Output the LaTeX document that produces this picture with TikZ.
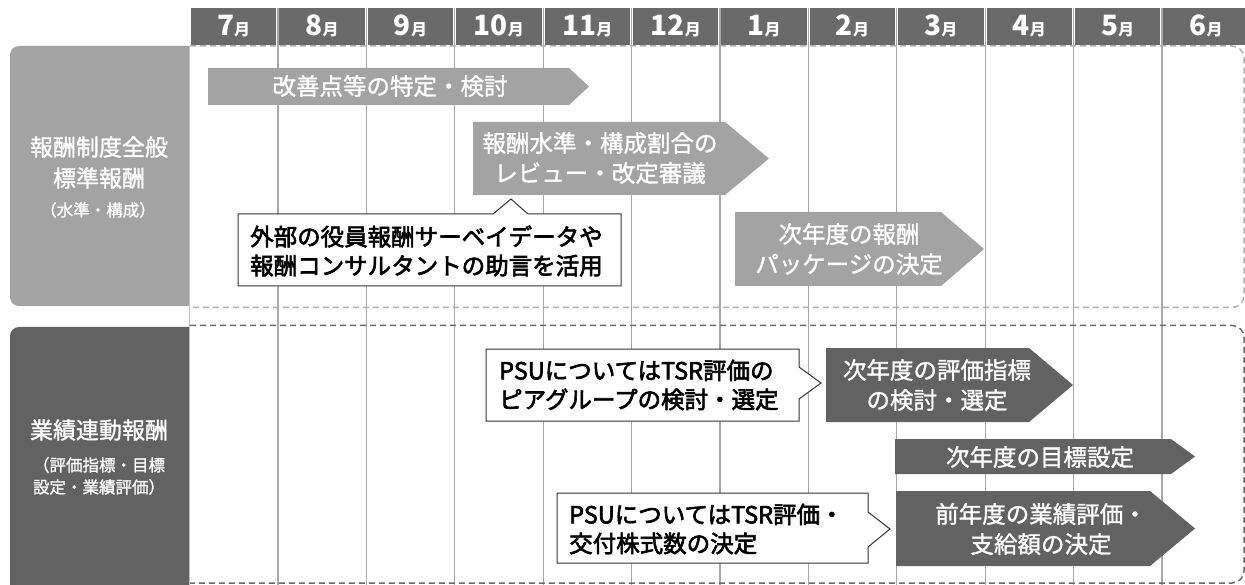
\documentclass[tikz,border=0pt]{standalone}
\usepackage{fontspec}
\setmainfont{Noto Sans CJK JP}
\newfontfamily\medfont[FakeBold=2.6]{Noto Sans CJK JP}
\newfontfamily\semifont[FakeBold=1.3]{Noto Sans CJK JP}
\definecolor{hdr}{HTML}{6A6A6A}
\definecolor{lgt}{HTML}{A3A3A3}
\definecolor{drk}{HTML}{626262}
\definecolor{gridc}{HTML}{A8A8A8}
\definecolor{frmL}{HTML}{B0B0B0}
\definecolor{frmD}{HTML}{6A6A6A}
\definecolor{cbord}{HTML}{333333}
\tikzset{
  hdrcell/.style={fill=hdr},
  monthlbl/.style={text=white,font=\bfseries\fontsize{28}{28}\selectfont,inner sep=0pt},
  gridline/.style={draw=gridc,line width=1.2pt},
  frameL/.style={draw=frmL,line width=1.5pt,dash pattern=on 6pt off 4pt,rounded corners=12pt},
  frameD/.style={draw=frmD,line width=1.5pt,dash pattern=on 6pt off 4pt,rounded corners=12pt},
  lightarrow/.style={fill=lgt},
  darkarrow/.style={fill=drk},
  arrowtxt/.style={text=white,font=\semifont\fontsize{23.5}{30}\selectfont,align=center,inner sep=0pt},
  callbox/.style={fill=white,draw=cbord,line width=1pt,line join=miter},
  calltxt/.style={text=black,font=\medfont\fontsize{23.5}{29}\selectfont,align=left,inner sep=0pt,anchor=west},
  sidemain/.style={text=white,font=\semifont\fontsize{23}{23}\selectfont,inner sep=0pt},
  sidesub/.style={text=white,font=\semifont\fontsize{16.5}{16.5}\selectfont,inner sep=0pt},
}
\newcommand{\chevron}[6]{% x0, xhead, xtip, ytop, ybot, style
  \fill[#6] (#1,#4) -- (#2,#4) -- (#3,{(#4+#5)/2}) -- (#2,#5) -- (#1,#5) -- cycle;}
\begin{document}
\begin{tikzpicture}[x=1pt,y=-1pt]
\useasboundingbox (0,0) rectangle (1245,585);
\clip (0,0) rectangle (1245,585);
\fill[white] (0,0) rectangle (1245,585);

% left category boxes
\fill[lgt] (189.5,46) [rounded corners=9pt]-- (10,46) -- (10,306) [sharp corners]-- (189.5,306) -- cycle;
\fill[drk] (189.5,327) [rounded corners=9pt]-- (10,327) -- (10,600) [sharp corners]-- (189.5,600) -- cycle;

% grid lines
\draw[gridc!70,line width=1pt] (189.5,46) -- (189.5,585);
\foreach \i in {1,...,11}{
  \pgfmathsetmacro\xb{189.5+88.4*\i}
  \draw[gridline] (\xb,8) -- (\xb,585);
}

% header cells and month labels
\foreach \m [count=\i from 0] in {7,8,9,10,11,12,1,2,3,4,5,6}{
  \pgfmathsetmacro\xa{189.5+88.4*\i+1.5}
  \pgfmathsetmacro\xc{189.5+88.4*(\i+1)-1.5}
  \pgfmathsetmacro\xm{189.5+88.4*\i+44.2}
  \fill[hdrcell] (\xa,8) rectangle (\xc,45);
  \node[monthlbl,anchor=base] (m\i) at (\xm,36) {\m\fontsize{16}{16}\selectfont 月};
}

% dashed frames
\draw[frameL] (190,46) -- (1244,46) -- (1244,307.5) -- (190,307.5);
\draw[frameD] (190,325.5) -- (1244,325.5) -- (1244,583) -- (190,583);

% side labels
\node[sidemain] (s1) at (99,147) {報酬制度全般};
\node[sidemain] (s2) at (99,178) {標準報酬};
\node[sidesub]  (s3) at (98,210) {（水準・構成）};
\node[sidemain] (s4) at (99,430) {業績連動報酬};
\node[sidesub]  (s5) at (99,465) {（評価指標・目標};
\node[sidesub]  (s6) at (99,487) {設定・業績評価）};

% top section arrows
\chevron{208}{569}{589}{68}{105}{lightarrow}
\node[arrowtxt] (a1) at (390,86) {改善点等の特定・検討};
\chevron{473}{725}{769}{122}{195}{lightarrow}
\node[arrowtxt] (a2) at (600,158) {報酬水準・構成割合の\\レビュー・改定審議};
\chevron{735}{941}{984}{212}{286}{lightarrow}
\node[arrowtxt] (a3) at (849,249) {次年度の報酬\\パッケージの決定};

% callout top
\draw[callbox] (238,214) -- (493,214) -- (511,199) -- (528,214) -- (621,214) -- (621,286) -- (238,286) -- cycle;
\node[calltxt] (c1) at (250,251) {外部の役員報酬サーベイデータや\\報酬コンサルタントの助言を活用};

% bottom section arrows
\chevron{826}{1029}{1073}{348}{422}{darkarrow}
\node[arrowtxt] (a4) at (937,385) {次年度の評価指標\\の検討・選定};
\chevron{895}{1171}{1195}{439}{474}{darkarrow}
\node[arrowtxt] (a5) at (1040,457) {次年度の目標設定};
\chevron{896}{1150}{1195}{491}{566}{darkarrow}
\node[arrowtxt] (a6) at (1041,529) {前年度の業績評価・\\支給額の決定};

% callouts bottom
\draw[callbox] (486,349) -- (799,349) -- (799,367) -- (821,383) -- (799,399) -- (799,421) -- (486,421) -- cycle;
\node[calltxt] (c2) at (499,385) {PSUについてはTSR評価の\\ピアグループの検討・選定};
\draw[callbox] (557,493) -- (868,493) -- (868,512) -- (890,529) -- (868,547) -- (868,563) -- (557,563) -- cycle;
\node[calltxt] (c3) at (569,529) {PSUについてはTSR評価・\\交付株式数の決定};
\end{tikzpicture}
\end{document}
